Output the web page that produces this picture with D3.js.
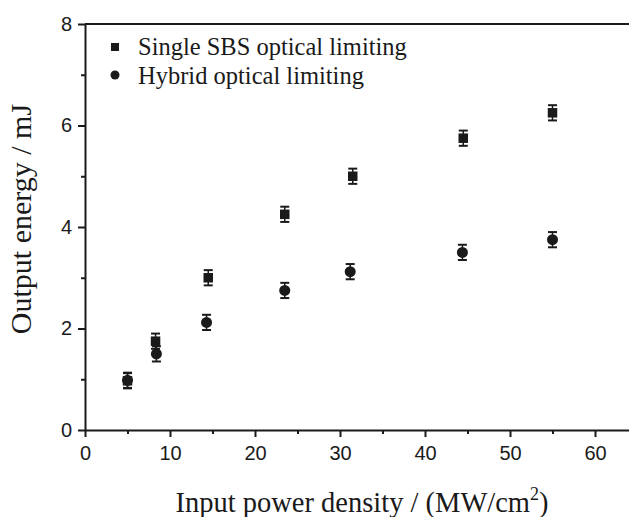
<!DOCTYPE html>
<html><head><meta charset="utf-8">
<script src="https://cdn.jsdelivr.net/npm/d3@7"></script>
<style>body{margin:0;background:#fff}svg{display:block}</style>
</head><body>
<script>
const inputPower = [5.0, 8.3, 14.5, 23.5, 31.5, 44.5, 55.0];
const singleSBS = [0.97, 1.75, 3.0, 4.25, 5.0, 5.75, 6.25];
const singleErr = [0.15, 0.15, 0.15, 0.15, 0.15, 0.15, 0.15];
const hybridPower = [5.0, 8.4, 14.3, 23.5, 31.2, 44.4, 55.0];
const hybrid = [0.98, 1.5, 2.12, 2.75, 3.12, 3.5, 3.75];
const hybridErr = [0.15, 0.15, 0.15, 0.15, 0.15, 0.15, 0.15];
const xTicks = [0, 10, 20, 30, 40, 50, 60];
const yTicks = [0, 2, 4, 6, 8];
const seriesNames = ["Single SBS optical limiting", "Hybrid optical limiting"];

const W = 629, H = 517;
const m = {l: 85, r: 0, t: 24, b: 87};
const sans = "'Liberation Sans', Arial, sans-serif";
const serif = "'Liberation Serif', 'Times New Roman', serif";
const svg = d3.select("body").append("svg").attr("width", W).attr("height", H);
const x = d3.scaleLinear().domain([0, 64]).range([m.l, W - m.r]);
const y = d3.scaleLinear().domain([0, 8]).range([H - m.b, m.t]);
const col = "#1a1a1a";

// axes
const xAxis = svg.append("g").attr("transform", `translate(0,${y(0)})`)
  .call(d3.axisBottom(x).tickValues(xTicks).tickSize(7).tickSizeOuter(0).tickPadding(9));
const xMinor = svg.append("g").attr("transform", `translate(0,${y(0)})`)
  .call(d3.axisBottom(x).tickValues(xTicks.map(v => v + 5)).tickSize(4).tickFormat(""));
const yAxis = svg.append("g").attr("transform", `translate(${x(0)},0)`)
  .call(d3.axisLeft(y).tickValues(yTicks).tickSize(7).tickSizeOuter(0).tickPadding(6));
const yMinor = svg.append("g").attr("transform", `translate(${x(0)},0)`)
  .call(d3.axisLeft(y).tickValues(yTicks.slice(0, -1).map(v => v + 1)).tickSize(4).tickFormat(""));
[xAxis, yAxis, xMinor, yMinor].forEach(g => {
  g.selectAll("path").attr("stroke", col).attr("stroke-width", 2);
  g.selectAll("line").attr("stroke", col).attr("stroke-width", 2);
  g.selectAll("text").attr("font-family", sans).attr("font-size", 20).attr("fill", col);
});
xMinor.select("path").remove(); yMinor.select("path").remove();
// top border
svg.append("line").attr("x1", x(0)).attr("x2", W).attr("y1", y(8)).attr("y2", y(8))
  .attr("stroke", col).attr("stroke-width", 2);

// error bars + markers
function drawSeries(xs, ys, es, shape) {
  const g = svg.append("g");
  xs.forEach((xv, i) => {
    const cx = x(xv), y1 = y(ys[i] - es[i]), y2 = y(ys[i] + es[i]);
    g.append("line").attr("x1", cx).attr("x2", cx).attr("y1", y1).attr("y2", y2).attr("stroke", col).attr("stroke-width", 1.5);
    [y1, y2].forEach(yy => g.append("line").attr("x1", cx - 4.5).attr("x2", cx + 4.5).attr("y1", yy).attr("y2", yy).attr("stroke", col).attr("stroke-width", 2));
    if (shape === "square") {
      g.append("rect").attr("x", cx - 4.75).attr("y", y(ys[i]) - 4.75).attr("width", 9.5).attr("height", 9.5).attr("fill", col);
    } else {
      g.append("circle").attr("cx", cx).attr("cy", y(ys[i])).attr("r", 5.5).attr("fill", col);
    }
  });
}
drawSeries(inputPower, singleSBS, singleErr, "square");
drawSeries(hybridPower, hybrid, hybridErr, "circle");

// legend
const lg = svg.append("g");
lg.append("rect").attr("x", 111).attr("y", 43).attr("width", 8).attr("height", 8).attr("fill", col);
lg.append("circle").attr("cx", 115).attr("cy", 75).attr("r", 4.5).attr("fill", col);
seriesNames.forEach((n, i) => {
  lg.append("text").attr("x", 138).attr("y", 55 + i * 29).text(n)
    .attr("font-family", serif).attr("font-size", 24.5).attr("fill", col);
});

// axis titles
const xt = svg.append("text").attr("x", 362).attr("y", 512).attr("text-anchor", "middle")
  .attr("font-family", serif).attr("font-size", 28.5).attr("fill", col);
xt.append("tspan").text("Input power density / (MW/cm");
xt.append("tspan").text("2").attr("font-size", 18).attr("dy", -12);
xt.append("tspan").text(")").attr("dy", 12);
svg.append("text").attr("transform", "translate(31,219) rotate(-90)").attr("text-anchor", "middle")
  .attr("font-family", serif).attr("font-size", 30).attr("fill", col)
  .text("Output energy / mJ");
</script>
</body></html>
